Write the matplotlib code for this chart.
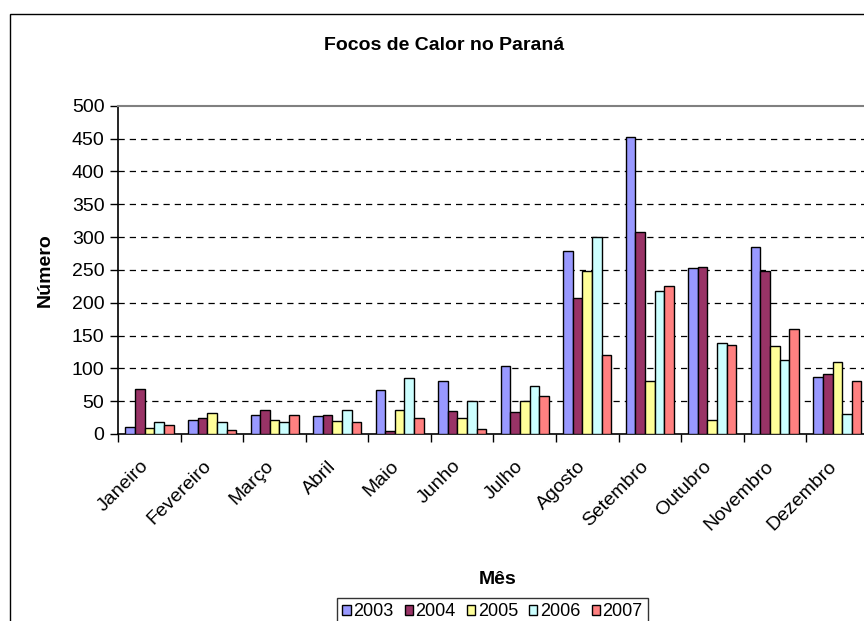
import numpy as np
import matplotlib.pyplot as plt
from matplotlib.patches import Rectangle
from matplotlib.transforms import ScaledTranslation

plt.rcParams['font.family'] = ['Liberation Sans', 'DejaVu Sans']

meses = ['Janeiro', 'Fevereiro', 'Março', 'Abril', 'Maio', 'Junho', 'Julho',
         'Agosto', 'Setembro', 'Outubro', 'Novembro', 'Dezembro']
anos = ['2003', '2004', '2005', '2006', '2007']
focos_2003 = [11, 22, 29, 27, 67, 80, 104, 279, 452, 253, 285, 87]
focos_2004 = [69, 24, 37, 29, 4, 35, 33, 207, 308, 255, 248, 92]
focos_2005 = [9, 32, 22, 20, 37, 24, 50, 248, 80, 22, 134, 110]
focos_2006 = [18, 18, 18, 37, 86, 50, 73, 300, 218, 139, 113, 31]
focos_2007 = [14, 6, 29, 18, 24, 7, 58, 121, 225, 136, 160, 81]
series = [focos_2003, focos_2004, focos_2005, focos_2006, focos_2007]
cores = ['#9999FF', '#993366', '#FFFF99', '#CCFFFF', '#FF8080']

W, H = 864, 621
fig = plt.figure(figsize=(W / 100, H / 100), dpi=100)

# chart area border (cut off at right and bottom, as in the source)
fig.patches.append(Rectangle((9.5 / W, -0.1), 1.2, 1 - 14 / H + 0.1,
                             transform=fig.transFigure, fill=False,
                             edgecolor='black', linewidth=1.0))

left, right = 118.3 / W, 868.6 / W
bottom, top = 1 - 434 / H, 1 - 105.7 / H
ax = fig.add_axes([left, bottom, right - left, top - bottom])

x = np.arange(len(meses))
n = len(series)
largura = 0.77 / n
for i, (vals, cor, ano) in enumerate(zip(series, cores, anos)):
    pos = x - 0.77 / 2 + largura * (i + 0.5)
    ax.bar(pos, vals, width=largura, color=cor, edgecolor='black',
           linewidth=1.0, label=ano, zorder=3)

ax.set_xlim(-0.5, len(meses) - 0.5)
ax.set_ylim(0, 500)
ax.set_yticks(np.arange(0, 501, 50))
for v in np.arange(50, 500, 50):
    ax.axhline(v, color='black', linestyle=(0, (5, 4)), linewidth=0.9, zorder=1)

# ticks on category boundaries, labels at centers
ax.set_xticks(np.arange(-0.5, len(meses), 1.0))
ax.set_xticklabels([])
ax.set_xticks(x, minor=True)
ax.set_xticklabels(meses, minor=True, rotation=45, ha='right', va='top',
                   rotation_mode='anchor', fontsize=14)
ax.tick_params(axis='x', which='minor', length=0, pad=17)
ax.tick_params(axis='x', which='major', length=6, width=1, direction='out')
ax.tick_params(axis='y', length=6, width=1, direction='out', labelsize=14, pad=4)
desloc = ScaledTranslation(-7 / 72, 0, fig.dpi_scale_trans)
for lab in ax.get_xticklabels(minor=True):
    lab.set_transform(lab.get_transform() + desloc)

for s in ['left', 'bottom']:
    ax.spines[s].set_color('black')
    ax.spines[s].set_linewidth(1.2)
ax.spines['top'].set_color('#808080')
ax.spines['top'].set_linewidth(1.5)
ax.spines['right'].set_visible(False)

ax.set_xlabel('Mês', fontsize=14, fontweight='bold')
ax.xaxis.set_label_coords(0.505, -0.418)
ax.set_ylabel('Número', fontsize=14, fontweight='bold')
ax.yaxis.set_label_coords((54 - 118.3) / (868.6 - 118.3), 0.5)

fig.text(444 / W, 1 - 46 / H, 'Focos de Calor no Paraná', ha='center',
         va='center', fontsize=14, fontweight='bold')

leg = fig.legend(loc='upper left', bbox_to_anchor=(337 / W, 1 - 598 / H),
                 ncol=5, fontsize=13, frameon=True, fancybox=False,
                 edgecolor='black', handlelength=0.45, handleheight=0.45,
                 handletextpad=0.15, columnspacing=0.62, borderpad=0.3,
                 borderaxespad=0)
leg.get_frame().set_linewidth(1.0)

fig.savefig('out.png', dpi=100)
